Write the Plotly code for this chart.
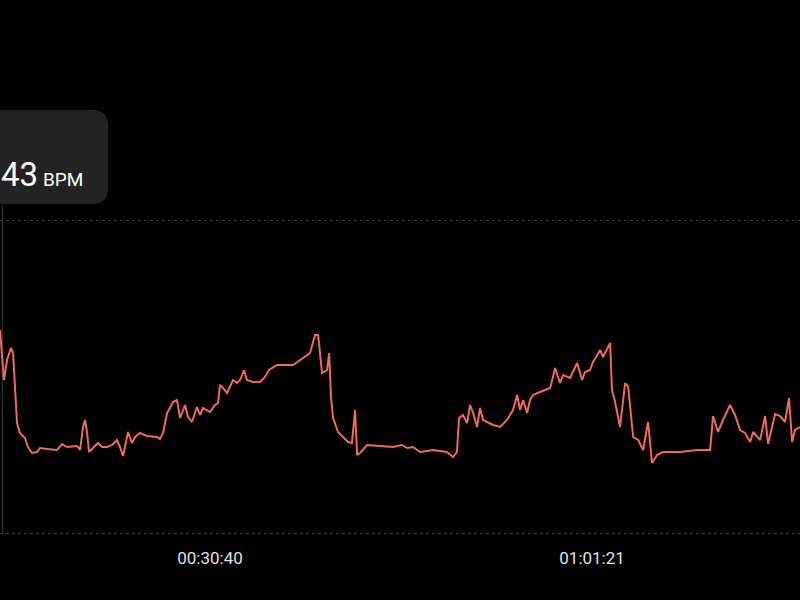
import plotly.graph_objects as go

# elapsed time (seconds) and heart rate (BPM)
time_s = [828, 847, 862, 881, 891, 900, 910, 924, 948, 963, 982, 1006, 1021, 1055, 1103, 1127, 1151, 1199, 1214, 1228,
          1238, 1247, 1257, 1276, 1300, 1320, 1344, 1368, 1392, 1406, 1421, 1430, 1445, 1464, 1479, 1503, 1536, 1585, 1599, 1614,
          1633, 1662, 1681, 1696, 1720, 1734, 1753, 1777, 1792, 1806, 1840, 1864, 1879, 1888, 1903, 1922, 1936, 1951, 1970, 1985,
          2004, 2018, 2047, 2081, 2105, 2124, 2163, 2240, 2288, 2322, 2346, 2361, 2380, 2404, 2414, 2423, 2433, 2457, 2481, 2505,
          2524, 2539, 2549, 2563, 2597, 2645, 2722, 2765, 2790, 2818, 2852, 2915, 2982, 3011, 3030, 3040, 3059, 3079, 3093, 3108,
          3127, 3141, 3156, 3204, 3238, 3271, 3300, 3320, 3334, 3349, 3368, 3382, 3397, 3430, 3479, 3503, 3527, 3541, 3575, 3609,
          3633, 3647, 3671, 3686, 3720, 3734, 3753, 3768, 3777, 3792, 3816, 3840, 3855, 3879, 3903, 3927, 3951, 3970, 3994, 4023,
          4105, 4187, 4250, 4264, 4288, 4312, 4346, 4370, 4394, 4418, 4443, 4457, 4491, 4515, 4529, 4563, 4587, 4611, 4630, 4645,
          4659, 4683]

bpm = [141.5, 116.5, 126.5, 132.5, 130, 115, 95, 90, 87.5, 83, 80, 80.5, 82.5, 82, 81.5, 84.5, 83, 83.5, 81.5, 93,
       96.5, 90.5, 80.5, 82.5, 85, 83, 83, 84, 86.5, 83, 78.5, 83, 90.5, 85, 88, 90, 88.5, 88, 87, 90,
       100, 105.5, 106.5, 97.5, 104, 98, 95.5, 103, 99, 102.5, 100.5, 104, 105, 114, 112.5, 110, 113, 116.5, 115, 116.5,
       121.5, 116.5, 115.5, 115.5, 118, 121.5, 124, 124, 127.5, 130, 139, 139, 120, 121.5, 130, 108, 97.5, 90.5, 88, 85.5,
       85, 101.5, 79, 80, 84, 83.5, 83, 84, 82.5, 83, 80.5, 81.5, 80.5, 78, 80.5, 97.5, 99, 95, 104, 100,
       93, 102.5, 96.5, 94, 93, 96.5, 101.5, 109, 101.5, 106.5, 100, 106.5, 109, 110.5, 112.5, 122.5, 115, 119, 117.5, 125,
       116.5, 120.5, 121.5, 125.5, 131.5, 128, 131.5, 135, 111.5, 105.5, 93, 115, 113, 88, 86.5, 81.5, 95.5, 75, 79, 80.5,
       80.5, 81.5, 81.5, 98.5, 90.5, 96.5, 104, 99, 91.5, 90, 85.5, 90.5, 86.5, 98.5, 84.5, 99.5, 98.5, 95.5, 107.5, 85.5,
       91.5, 93]

tick_vals = [1840, 3681]
tick_text = ["00:30:40", "01:01:21"]
grid_vals = [40, 196.5]
tooltip_value = "43"
tooltip_unit = "BPM"

fig = go.Figure()
fig.add_trace(go.Scatter(x=time_s, y=bpm, mode="lines",
                         line=dict(color="#EF6A5E", width=2), hoverinfo="skip"))

W, H = 800, 600
top, bottom = 200, 60
ph = H - top - bottom

def py(p):
    return (H - bottom - p) / ph

# tooltip box
x0, x1 = -0.05, 108 / W
y0, y1 = py(204), py(110)
rx, ry = 16 / W, 16 / ph
path = (f"M {x0},{y0} L {x1-rx},{y0} Q {x1},{y0} {x1},{y0+ry} "
        f"L {x1},{y1-ry} Q {x1},{y1} {x1-rx},{y1} L {x0},{y1} Z")
shapes = [
    dict(type="path", xref="paper", yref="paper", path=path,
         fillcolor="#232323", line=dict(width=0), layer="above"),
    dict(type="line", xref="paper", yref="paper", x0=2.5 / W, x1=2.5 / W,
         y0=py(533), y1=py(205), line=dict(color="#2c2c2c", width=1.5), layer="below"),
]

annotations = [
    dict(xref="paper", yref="paper", x=39 / W, y=py(195), xanchor="right", yanchor="bottom",
         text=tooltip_value, showarrow=False, borderpad=0,
         font=dict(family="Roboto", size=33, color="#ffffff")),
    dict(xref="paper", yref="paper", x=41 / W, y=py(193), xanchor="left", yanchor="bottom",
         text=tooltip_unit, showarrow=False,
         font=dict(family="Roboto", size=19, color="#ffffff")),
]

fig.update_layout(
    width=W, height=H,
    paper_bgcolor="#000000", plot_bgcolor="#000000",
    margin=dict(l=0, r=0, t=top, b=bottom, pad=0),
    showlegend=False,
    shapes=shapes, annotations=annotations,
    xaxis=dict(range=[828, 4683], tickvals=tick_vals, ticktext=tick_text,
               showgrid=False, zeroline=False, showline=False, ticks="",
               ticklabelstandoff=6,
               tickfont=dict(family="Roboto", size=17, color="#e0e0e0")),
    yaxis=dict(range=[36.5, 206.5], tickvals=grid_vals, showticklabels=False,
               showgrid=True, gridcolor="#3a3a3a", gridwidth=1, griddash="3px,3px",
               zeroline=False, showline=False, ticks=""),
)

fig.write_html("out.html", config={"displayModeBar": False},
               post_script="document.body.style.margin='0';document.body.style.background='#000';")
